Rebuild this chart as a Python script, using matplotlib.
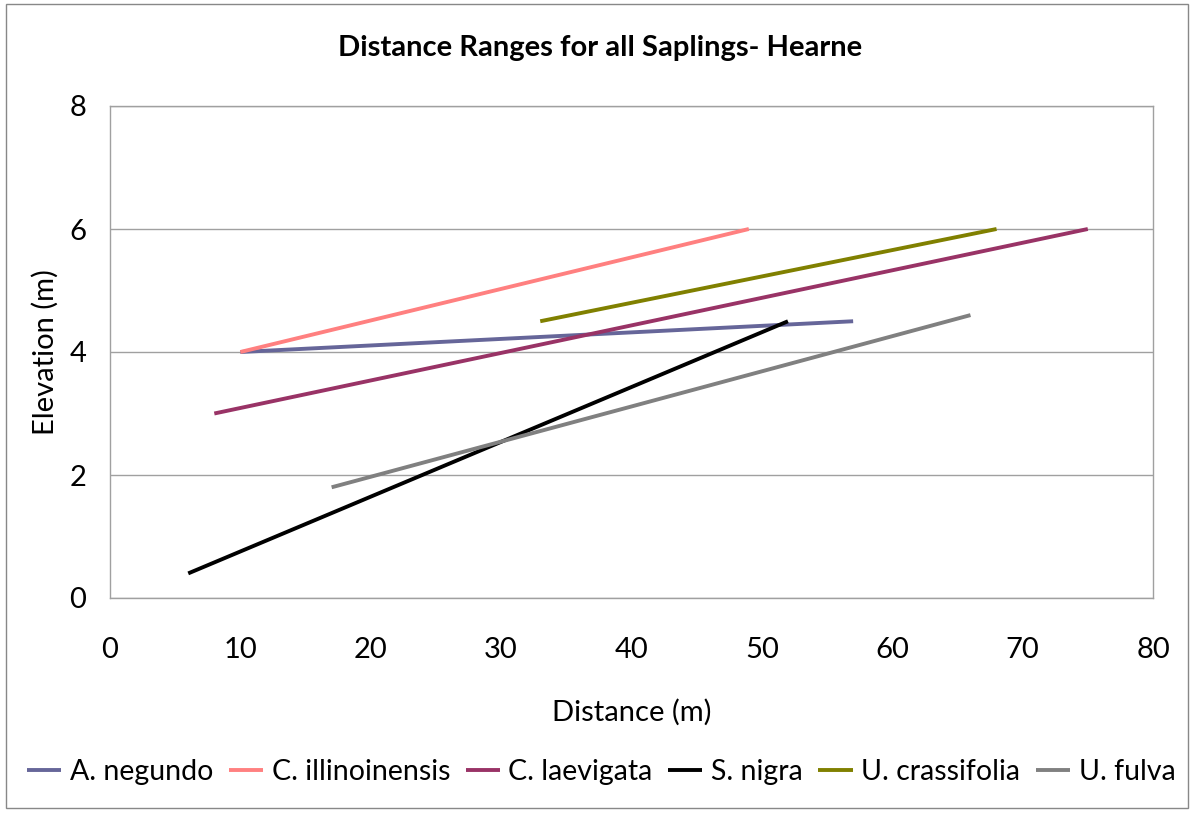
import matplotlib
matplotlib.use("Agg")
import matplotlib.pyplot as plt
from matplotlib.patches import Rectangle

# ---------- data ----------
species = ["A. negundo", "C. illinoinensis", "C. laevigata",
           "S. nigra", "U. crassifolia", "U. fulva"]
dist_start = [10, 10, 8, 6, 33, 17]
dist_end = [57, 49, 75, 52, 68, 66]
elev_start = [4.0, 4.0, 3.0, 0.4, 4.5, 1.8]
elev_end = [4.5, 6.0, 6.0, 4.5, 6.0, 4.6]
colors = ["#666699", "#ff8080", "#993366", "#000000", "#808000", "#808080"]

x_ticks = [0, 10, 20, 30, 40, 50, 60, 70, 80]
y_ticks = [0, 2, 4, 6, 8]

plt.rcParams["font.family"] = ["Lato", "DejaVu Sans"]

fig = plt.figure(figsize=(11.94, 8.14), dpi=100)
fig.patches.append(Rectangle((6 / 1194, 6 / 814), 1 - 12 / 1194, 1 - 10 / 814,
                             transform=fig.transFigure, fill=False,
                             edgecolor="#888888", linewidth=1))

ax = fig.add_axes([110 / 1194, 1 - 598 / 814, 1043 / 1194, 492 / 814])
for name, x0, x1, y0, y1, c in zip(species, dist_start, dist_end,
                                    elev_start, elev_end, colors):
    ax.plot([x0, x1], [y0, y1], color=c, linewidth=2.8, label=name,
            solid_capstyle="butt")

ax.set_xlim(0, 80)
ax.set_ylim(0, 8)
ax.set_xticks(x_ticks)
ax.set_yticks(y_ticks)
ax.tick_params(length=0, labelsize=21)
ax.tick_params(axis="x", pad=28)
ax.tick_params(axis="y", pad=17)
ax.grid(axis="y", color="#a0a0a0", linewidth=1)
ax.set_axisbelow(True)
for s in ax.spines.values():
    s.set_color("#a0a0a0")
    s.set_linewidth(1)

ax.set_xlabel("Distance (m)", fontsize=21, labelpad=26)
ax.set_ylabel("Elevation (m)", fontsize=21, labelpad=8)
fig.text(0.5025, 1 - 48 / 814, "Distance Ranges for all Saplings- Hearne",
         ha="center", va="center", fontsize=21, fontweight="bold")

handles, labels = ax.get_legend_handles_labels()
fig.legend(handles, labels, loc="center", bbox_to_anchor=(0.5035, 1 - 772 / 814),
           ncol=6, frameon=False, fontsize=20.5, handlelength=1.2,
           handletextpad=0.3, columnspacing=0.55)

fig.savefig("out.png", dpi=100)
